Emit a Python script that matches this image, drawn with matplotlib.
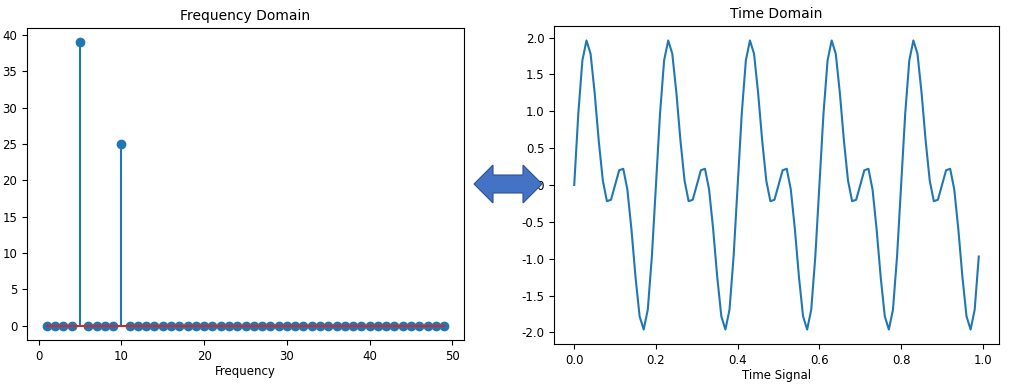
import numpy as np
import matplotlib.pyplot as plt
from matplotlib.patches import Polygon

plt.rcParams['axes.unicode_minus'] = False

# spectrum: bins 1..49, only 5 and 10 are non-zero
freq = np.arange(1, 50)
spec_peaks = {5: 39, 10: 25}
spectrum = np.zeros(len(freq))
for f, v in spec_peaks.items():
    spectrum[freq == f] = v

# time signal, 100 samples (step 0.01)
t = np.arange(100) / 100
signal = [
    0.00, 0.97, 1.69, 1.96, 1.78, 1.25, 0.60, 0.06, -0.22, -0.20,
    0.00, 0.20, 0.22, -0.06, -0.60, -1.25, -1.78, -1.96, -1.69, -0.97,
    0.00, 0.97, 1.69, 1.96, 1.78, 1.25, 0.60, 0.06, -0.22, -0.20,
    0.00, 0.20, 0.22, -0.06, -0.60, -1.25, -1.78, -1.96, -1.69, -0.97,
    0.00, 0.97, 1.69, 1.96, 1.78, 1.25, 0.60, 0.06, -0.22, -0.20,
    0.00, 0.20, 0.22, -0.06, -0.60, -1.25, -1.78, -1.96, -1.69, -0.97,
    0.00, 0.97, 1.69, 1.96, 1.78, 1.25, 0.60, 0.06, -0.22, -0.20,
    0.00, 0.20, 0.22, -0.06, -0.60, -1.25, -1.78, -1.96, -1.69, -0.97,
    0.00, 0.97, 1.69, 1.96, 1.78, 1.25, 0.60, 0.06, -0.22, -0.20,
    0.00, 0.20, 0.22, -0.06, -0.60, -1.25, -1.78, -1.96, -1.69, -0.97,
]

W, H = 1024, 387
fig = plt.figure(figsize=(W / 100, H / 100), dpi=100)

def box(x0, y0, x1, y1):
    # pixel box (top-left origin) -> figure fraction
    return [x0 / W, 1 - y1 / H, (x1 - x0) / W, (y1 - y0) / H]

ax1 = fig.add_axes(box(27, 28, 464, 340))
ax1.stem(freq, spectrum)
ax1.set_title('Frequency Domain', fontsize=10)
ax1.set_xlabel('Frequency', fontsize=8.5, labelpad=2)
ax1.tick_params(labelsize=8.5)

ax2 = fig.add_axes(box(554, 26, 999, 344))
ax2.plot(t, signal)
ax2.set_title('Time Domain', fontsize=10)
ax2.set_xlabel('Time Signal', fontsize=8.5, labelpad=2)
ax2.tick_params(labelsize=8.5)

# double arrow between the two plots (pixel coords)
pts = [(474, 184), (493, 165), (493, 175), (523, 175), (523, 165),
       (542, 184), (523, 203), (523, 193), (493, 193), (493, 203)]
arrow = Polygon([(x, H - y) for x, y in pts], closed=True, transform=None,
                facecolor='#4472C4', edgecolor='#2F528F', lw=0.8, zorder=10)
fig.patches.append(arrow)

plt.savefig('out.png', dpi=100)
